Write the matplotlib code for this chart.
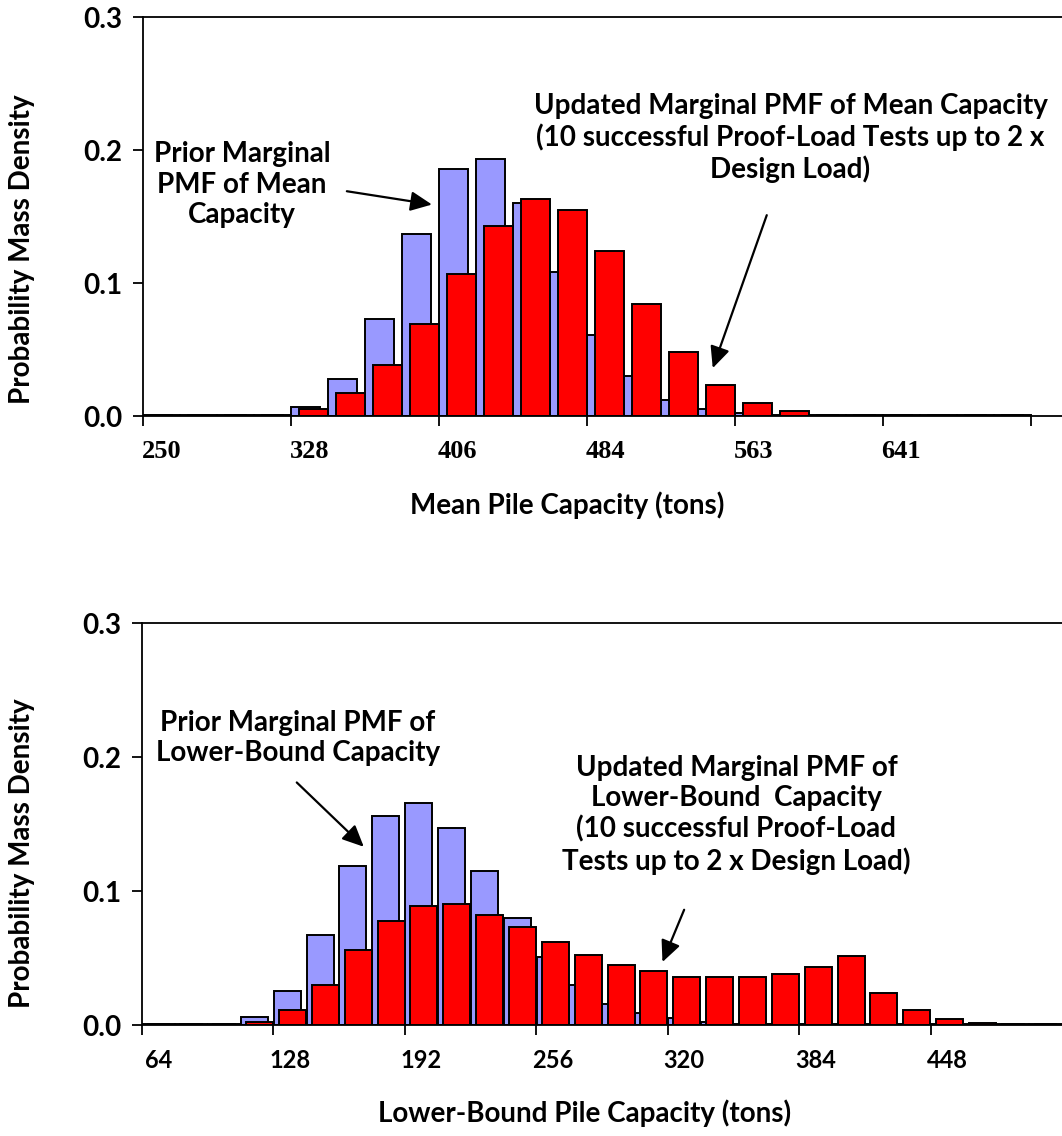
import matplotlib
matplotlib.use("Agg")
from matplotlib import pyplot as plt
import numpy as np

# top panel: mean pile capacity (tons), 24 categories, label every 4th
mean_labels = ["250", "328", "406", "484", "563", "641"]
mean_prior = [0.001, 0.001, 0.001, 0.001, 0.0065, 0.028, 0.073, 0.137, 0.186, 0.193, 0.160, 0.108,
              0.061, 0.030, 0.012, 0.005, 0.002, 0.001, 0.001, 0.001, 0.001, 0.001, 0.001, 0.001]
mean_updated = [0.001, 0.001, 0.001, 0.001, 0.0055, 0.017, 0.038, 0.069, 0.107, 0.143, 0.163, 0.155,
                0.124, 0.084, 0.048, 0.023, 0.0095, 0.004, 0.001, 0.001, 0.001, 0.001, 0.001, 0.001]

# bottom panel: lower-bound pile capacity (tons), 28 categories
lb_prior = [0.001, 0.001, 0.001, 0.006, 0.0255, 0.067, 0.119, 0.156, 0.166, 0.147,
            0.115, 0.080, 0.051, 0.030, 0.016, 0.0087, 0.005, 0.002, 0.001, 0.001,
            0.001, 0.001, 0.001, 0.001, 0.001, 0.001, 0.001, 0.001]
lb_updated = [0.001, 0.001, 0.001, 0.0025, 0.011, 0.030, 0.0557, 0.0775, 0.089, 0.090, 0.082,
              0.073, 0.0617, 0.0524, 0.045, 0.040, 0.036, 0.0355, 0.0355, 0.038,
              0.043, 0.0517, 0.0237, 0.0112, 0.0045, 0.0015, 0.001, 0.001]
lb_labels = ["64", "128", "192", "256", "320", "384", "448"]

BLUE = "#9999FF"
RED = "#FF0000"
FONT = "Lato"

fig = plt.figure(figsize=(10.62, 11.36), dpi=100)
ax1 = fig.add_axes([0.13465, 0.63380, 0.86535, 0.35123])
ax2 = fig.add_axes([0.13371, 0.09771, 0.86629, 0.35387])


def draw_panel(ax, prior, updated, labels, width, offset, xmax, tick_font, tick_size):
    x = np.arange(len(prior))
    ax.bar(x - offset / 2, prior, width=width, color=BLUE, edgecolor="black", linewidth=1.4, zorder=2)
    ax.bar(x + offset / 2, updated, width=width, color=RED, edgecolor="black", linewidth=1.4, zorder=3)
    ax.set_xlim(-0.5, xmax)
    ax.set_ylim(0, 0.3)
    ax.spines["right"].set_visible(False)
    for s in ["left", "bottom", "top"]:
        ax.spines[s].set_linewidth(1.3)
    # tick marks on category boundaries, labels at category centres
    ax.set_xticks(np.arange(-0.5, xmax, 4))
    ax.set_xticklabels([])
    ax.tick_params(axis="x", which="major", direction="out", length=7, width=1.3)
    ax.set_xticks(np.arange(0, 4 * len(labels), 4), minor=True)
    ax.set_xticklabels(labels, minor=True, fontfamily=tick_font, fontweight="bold", fontsize=tick_size)
    ax.tick_params(axis="x", which="minor", length=0, pad=17)
    ax.set_yticks([0, 0.1, 0.2, 0.3])
    ax.set_yticklabels(["0.0", "0.1", "0.2", "0.3"], fontfamily=FONT, fontweight="bold", fontsize=20)
    ax.tick_params(axis="y", direction="out", length=7, width=1.3, pad=8)


draw_panel(ax1, mean_prior, mean_updated, mean_labels, 0.78, 0.22, 24.34, "Liberation Serif", 19)
draw_panel(ax2, lb_prior, lb_updated, lb_labels, 0.82, 0.16, 27.5, FONT, 17)

txt = dict(fontfamily=FONT, fontweight="bold", fontsize=20, ha="center", va="center", linespacing=1.2)
arr = dict(arrowstyle="-|>,head_length=1.3,head_width=0.6", color="black", lw=1.6, shrinkA=0, shrinkB=0)

ax1.text(2.18, 0.174, "Prior Marginal\nPMF of Mean\nCapacity", **txt)
ax1.annotate("", xy=(7.31, 0.159), xytext=(5.01, 0.169), arrowprops=arr)
ax1.text(17.0, 0.209, "Updated Marginal PMF of Mean Capacity\n(10 successful Proof-Load Tests up to 2 x\nDesign Load)", **txt)
ax1.annotate("", xy=(14.9, 0.036), xytext=(16.36, 0.151), arrowprops=arr)

ax2.text(4.24, 0.214, "Prior Marginal PMF of\nLower-Bound Capacity", **txt)
ax2.annotate("", xy=(6.25, 0.133), xytext=(4.21, 0.181), arrowprops=arr)
ax2.text(17.59, 0.157, "Updated Marginal PMF of\nLower-Bound  Capacity\n(10 successful Proof-Load\nTests up to 2 x Design Load)", **txt)
ax2.annotate("", xy=(15.34, 0.047), xytext=(16.0, 0.086), arrowprops=arr)

lab = dict(fontfamily=FONT, fontweight="bold", fontsize=20, ha="center", va="center")
fig.text(22 / 1062, 1 - 249 / 1136, "Probability Mass Density", rotation=90, **lab)
fig.text(22 / 1062, 1 - 853 / 1136, "Probability Mass Density", rotation=90, **lab)
fig.text(567 / 1062, 1 - 505 / 1136, "Mean Pile Capacity (tons)", **lab)
fig.text(585 / 1062, 1 - 1113 / 1136, "Lower-Bound Pile Capacity (tons)", **lab)

fig.savefig("out.png", dpi=100)
